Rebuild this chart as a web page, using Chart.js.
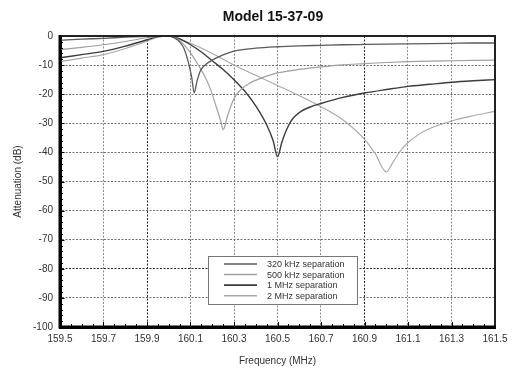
<!DOCTYPE html>
<html>
<head>
<meta charset="utf-8">
<script src="https://cdn.jsdelivr.net/npm/chart.js@4/dist/chart.umd.min.js"></script>
<style>
  html, body { margin: 0; padding: 0; background: #fff; }
  #wrap { width: 515px; height: 371px; }
</style>
</head>
<body>
<div id="wrap"><canvas id="c" width="515" height="371"></canvas></div>
<script>
// Filter response for four frequency separations: attenuation (dB) vs frequency (MHz)
const chartTitle = 'Model 15-37-09';
const seriesLabels = ['320 kHz separation', '500 kHz separation', '1 MHz separation', '2 MHz separation'];

const freq320 = [159.5, 159.6, 159.7, 159.8, 159.9, 159.95, 160.0, 160.03, 160.05, 160.07, 160.09, 160.105, 160.117, 160.13, 160.145, 160.17, 160.2, 160.25, 160.3, 160.4, 160.5, 160.6, 160.7, 160.8, 160.9, 161.0, 161.1, 161.2, 161.3, 161.4, 161.5];
const atten320 = [-1.5, -1.1, -0.8, -0.4, -0.1, 0, 0, -0.8, -2, -4.3, -9, -14, -19.5, -15.5, -12, -9.8, -8.3, -6.5, -5.2, -4.2, -3.7, -3.4, -3.2, -3.0, -2.9, -2.8, -2.7, -2.6, -2.5, -2.4, -2.4];

const freq500 = [159.5, 159.6, 159.7, 159.8, 159.9, 159.95, 160.0, 160.05, 160.1, 160.14, 160.17, 160.19, 160.22, 160.24, 160.25, 160.27, 160.3, 160.33, 160.37, 160.45, 160.5, 160.6, 160.7, 160.8, 160.9, 161.0, 161.1, 161.2, 161.3, 161.4, 161.5];
const atten500 = [-4.7, -3.9, -3.0, -1.9, -0.6, -0.1, 0, -1.5, -5.8, -10.5, -14.5, -17.9, -24.7, -29.5, -32.2, -27.5, -21.5, -18.5, -16.3, -13.8, -12.7, -11.5, -10.6, -9.9, -9.5, -9.1, -8.8, -8.6, -8.5, -8.4, -8.3];

const freq1M = [159.5, 159.6, 159.7, 159.8, 159.9, 159.95, 160.0, 160.05, 160.1, 160.15, 160.2, 160.25, 160.3, 160.35, 160.4, 160.45, 160.48, 160.5, 160.52, 160.54, 160.56, 160.58, 160.61, 160.65, 160.7, 160.8, 160.9, 161.0, 161.1, 161.2, 161.3, 161.4, 161.5];
const atten1M = [-7.5, -6.4, -5.3, -3.5, -1.3, -0.2, 0, -1, -3, -5.5, -8.5, -11.5, -15, -19, -24, -30.5, -36, -41.5, -36.5, -32.5, -29.5, -27.6, -25.8, -24.4, -23.2, -21.1, -19.6, -18.4, -17.3, -16.6, -15.9, -15.4, -15.0];

const freq2M = [159.5, 159.6, 159.7, 159.8, 159.9, 159.95, 160.0, 160.1, 160.2, 160.3, 160.4, 160.5, 160.6, 160.7, 160.8, 160.9, 160.95, 161.0, 161.03, 161.06, 161.1, 161.15, 161.2, 161.3, 161.4, 161.5];
const atten2M = [-8.8, -7.6, -6.4, -4.3, -1.8, -0.4, 0, -2.5, -6, -10, -13.5, -17, -20.5, -24.3, -28.8, -35.5, -40.5, -46.7, -43.5, -40, -36.6, -33.8, -31.8, -29.2, -27.4, -25.9];

const xTickValues = [159.5, 159.7, 159.9, 160.1, 160.3, 160.5, 160.7, 160.9, 161.1, 161.3, 161.5];
const xTickLabels = ['159.5', '159.7', '159.9', '160.1', '160.3', '160.5', '160.7', '160.9', '161.1', '161.3', '161.5'];
const yTickValues = [0, -10, -20, -30, -40, -50, -60, -70, -80, -90, -100];
const yTickLabels = ['0', '-10', '-20', '-30', '-40', '-50', '-60', '-70', '-80', '-90', '-100'];

const FONT = 'Arial, "Liberation Sans", sans-serif';
const seriesColors = ['#5a5a5a', '#a0a0a0', '#3c3c3c', '#a8a8a8'];
const seriesWidths = [1.3, 1.2, 1.4, 1.1];

function toPoints(fs, ds) { return fs.map((f, i) => ({ x: f, y: ds[i] })); }
const seriesData = [
  toPoints(freq320, atten320),
  toPoints(freq500, atten500),
  toPoints(freq1M, atten1M),
  toPoints(freq2M, atten2M)
];

// Grid lines that print heavier on the frame
const heavyX = [159.9, 160.9];
const heavyY = [-80];
function gridColor(list, normal) {
  return (ctx) => {
    const v = ctx.tick ? ctx.tick.value : null;
    return list.some(h => Math.abs(h - v) < 1e-6) ? '#2a2a2a' : normal;
  };
}

const decorations = {
  id: 'decorations',
  afterDatasetsDraw(chart) {
    const { ctx, chartArea: a, scales: { x, y } } = chart;
    ctx.save();
    // small inner tick marks along left and bottom axes
    ctx.strokeStyle = '#000';
    ctx.lineWidth = 1;
    for (let v = -100; v <= 0; v += 2) {
      const py = Math.round(y.getPixelForValue(v)) + 0.5;
      const len = v % 10 === 0 ? 3 : 1.5;
      ctx.beginPath(); ctx.moveTo(a.left, py); ctx.lineTo(a.left + 1.5 + len, py); ctx.stroke();
    }
    for (let k = 0; k <= 40; k++) {
      const px = Math.round(x.getPixelForValue(159.5 + k * 0.05)) + 0.5;
      const len = k % 4 === 0 ? 3.5 : 1.5;
      ctx.beginPath(); ctx.moveTo(px, a.bottom); ctx.lineTo(px, a.bottom - 1.5 - len); ctx.stroke();
    }
    // plot frame
    ctx.lineWidth = 2;
    ctx.strokeStyle = '#222';
    ctx.strokeRect(a.left, a.top, a.right - a.left, a.bottom - a.top);
    ctx.lineWidth = 3;
    ctx.strokeStyle = '#000';
    ctx.beginPath();
    ctx.moveTo(a.left, a.top - 1); ctx.lineTo(a.left, a.bottom);
    ctx.lineTo(a.right + 1, a.bottom);
    ctx.stroke();

    // title
    ctx.fillStyle = '#111';
    ctx.font = 'bold 14px ' + FONT;
    ctx.textAlign = 'center';
    ctx.textBaseline = 'middle';
    ctx.fillText(chartTitle, 273, 17);

    // legend box
    const bx = 208.5, by = 256.5, bw = 149, bh = 48;
    ctx.fillStyle = '#fff';
    ctx.fillRect(bx, by, bw, bh);
    ctx.lineWidth = 1;
    ctx.strokeStyle = '#777';
    ctx.strokeRect(bx, by, bw, bh);
    ctx.font = '9px ' + FONT;
    ctx.textAlign = 'left';
    ctx.fillStyle = '#333';
    chart.data.datasets.forEach((ds, i) => {
      const ry = 264 + i * 10.6;
      ctx.strokeStyle = ds.borderColor;
      ctx.lineWidth = ds.borderWidth + 0.3;
      ctx.beginPath(); ctx.moveTo(224, ry); ctx.lineTo(257, ry); ctx.stroke();
      ctx.fillText(ds.label, 267, ry + 0.5);
    });
    ctx.restore();
  }
};

new Chart(document.getElementById('c'), {
  type: 'line',
  data: {
    datasets: seriesData.map((pts, i) => ({
      label: seriesLabels[i],
      data: pts,
      borderColor: seriesColors[i],
      borderWidth: seriesWidths[i],
      pointRadius: 0,
      fill: false,
      cubicInterpolationMode: 'monotone'
    }))
  },
  options: {
    responsive: false,
    animation: false,
    devicePixelRatio: 1,
    layout: { padding: { top: 36, right: 20, left: 0, bottom: 0 } },
    plugins: {
      legend: { display: false },
      title: { display: false },
      tooltip: { enabled: false }
    },
    scales: {
      x: {
        type: 'linear',
        min: 159.5,
        max: 161.5,
        afterBuildTicks: (s) => { s.ticks = xTickValues.map(v => ({ value: v })); },
        afterFit: (s) => { s.height = 44; },
        ticks: {
          callback: (v, i) => xTickLabels[i],
          autoSkip: false,
          maxRotation: 0,
          padding: 6,
          color: '#333',
          font: { family: FONT, size: 10 }
        },
        grid: { color: gridColor(heavyX, '#8a8a8a'), lineWidth: 1, drawTicks: false },
        border: { display: true, color: '#000', width: 3, dash: [2, 1.5] },
        title: {
          display: true,
          text: 'Frequency (MHz)',
          color: '#333',
          font: { family: FONT, size: 10 },
          padding: { top: 0, bottom: 4 }
        }
      },
      y: {
        type: 'linear',
        min: -100,
        max: 0,
        afterBuildTicks: (s) => { s.ticks = yTickValues.map(v => ({ value: v })); },
        afterFit: (s) => { s.width = 60; },
        ticks: {
          callback: (v, i) => yTickLabels[i],
          autoSkip: false,
          padding: 7,
          color: '#333',
          font: { family: FONT, size: 10 }
        },
        grid: { color: gridColor(heavyY, '#707070'), lineWidth: 1, drawTicks: false },
        border: { display: true, color: '#000', width: 3, dash: [2, 1.5] },
        title: {
          display: true,
          text: 'Attenuation (dB)',
          color: '#333',
          font: { family: FONT, size: 10 },
          padding: { top: 12, bottom: 0 }
        }
      }
    }
  },
  plugins: [decorations]
});
</script>
</body>
</html>
